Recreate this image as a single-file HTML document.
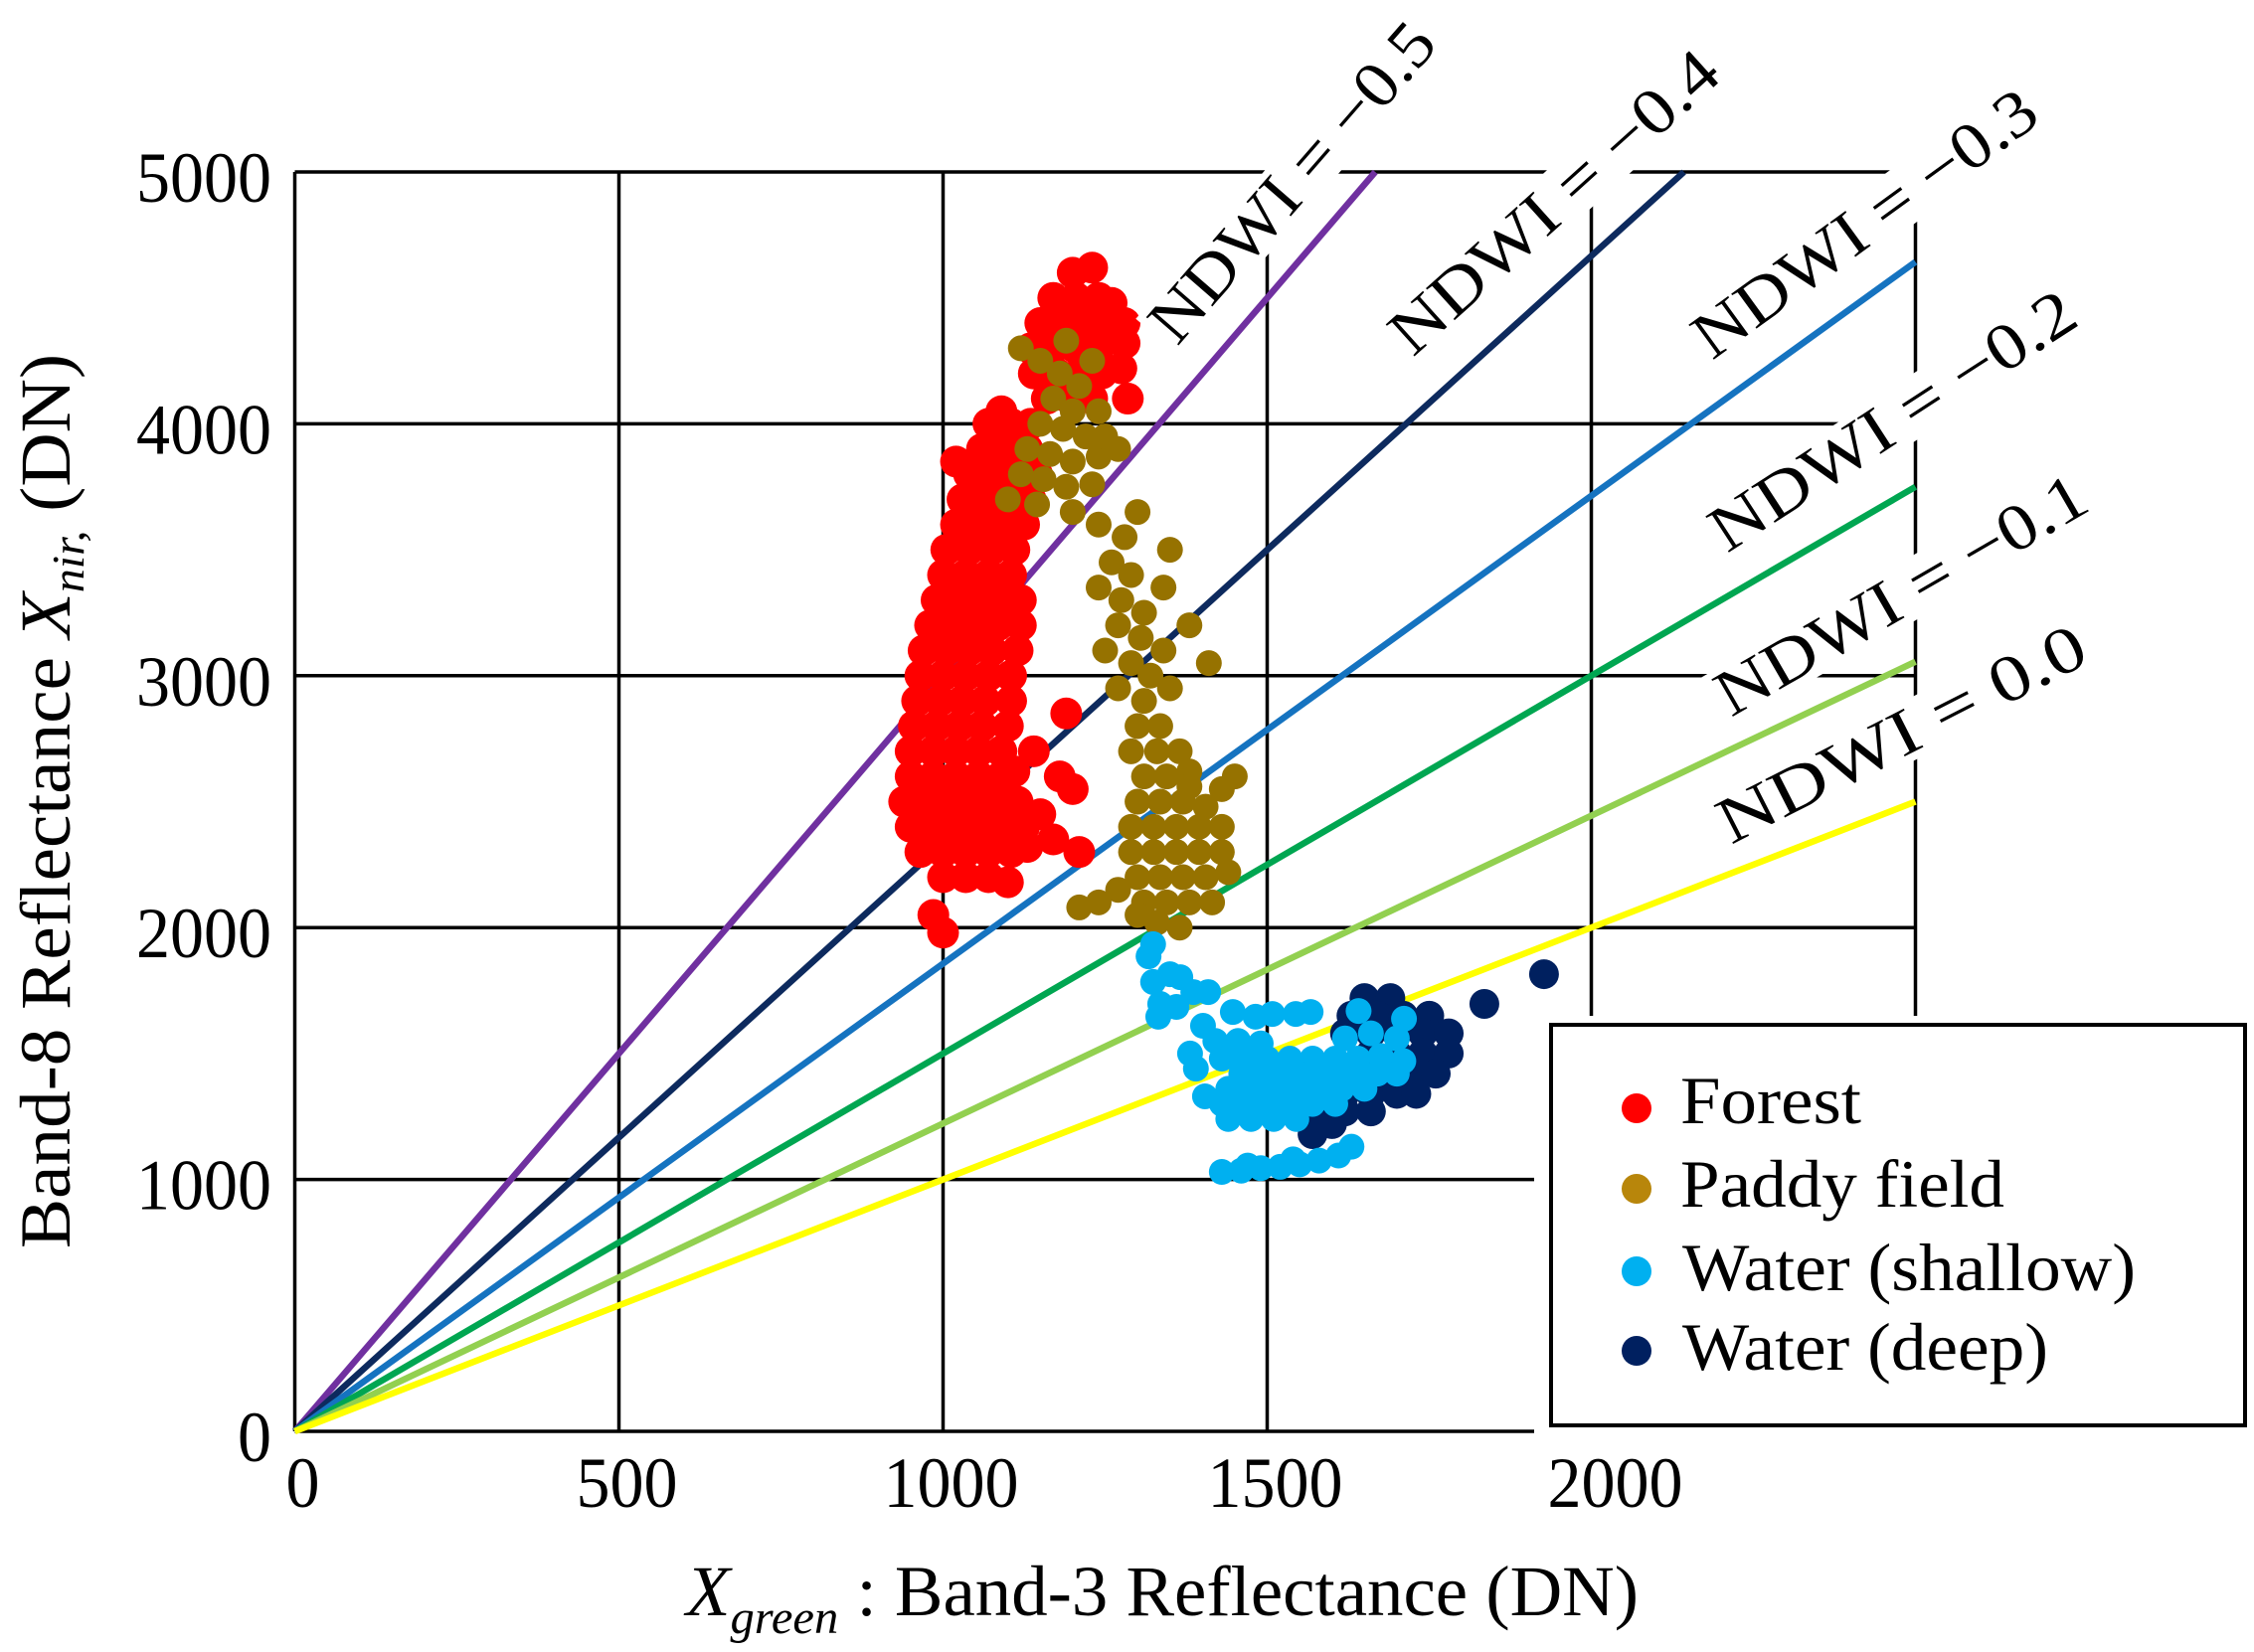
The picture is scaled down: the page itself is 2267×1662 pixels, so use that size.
<!DOCTYPE html>
<html><head><meta charset="utf-8">
<style>
html,body{margin:0;padding:0;background:#fff;}
svg{display:block;font-family:"Liberation Serif",serif;}
</style></head>
<body>
<svg id="chart" width="2267" height="1662" viewBox="0 0 2267 1662" xmlns="http://www.w3.org/2000/svg">
<rect width="2267" height="1662" fill="#fff"/>
<g id="grid"></g>
<g id="ndwiLines"></g>
<g id="points"></g>
<g id="lineLabels"></g>
<g id="ticks"></g>
<text transform="translate(70,806) rotate(-90)" text-anchor="middle" font-size="72" fill="#000" textLength="900" lengthAdjust="spacingAndGlyphs">Band-8 Reflectance  <tspan font-style="italic">X</tspan><tspan font-style="italic" font-size="46" dy="14">nir,</tspan><tspan dy="-14">  (DN)</tspan></text>
<text x="690" y="1625" font-size="72" fill="#000" textLength="958" lengthAdjust="spacingAndGlyphs"><tspan font-style="italic">X</tspan><tspan font-style="italic" font-size="48" dy="18">green</tspan><tspan dy="-18"> : Band-3 Reflectance (DN)</tspan></text>
<g>
<rect x="1543" y="1022" width="724" height="440" fill="#fff"/>
<rect x="1560" y="1031" width="698" height="403" fill="#fff" stroke="#000" stroke-width="4"/>
<circle cx="1646" cy="1115" r="15" fill="#ff0000"/>
<text x="1690" y="1130" font-size="68" textLength="182" lengthAdjust="spacingAndGlyphs">Forest</text>
<circle cx="1646" cy="1196" r="15" fill="#b8860b"/>
<text x="1690" y="1214" font-size="68" textLength="326" lengthAdjust="spacingAndGlyphs">Paddy field</text>
<circle cx="1646" cy="1279" r="15" fill="#00b0f0"/>
<text x="1692" y="1298" font-size="68" textLength="456" lengthAdjust="spacingAndGlyphs">Water (shallow)</text>
<circle cx="1646" cy="1359" r="15" fill="#002060"/>
<text x="1692" y="1378" font-size="68" textLength="368" lengthAdjust="spacingAndGlyphs">Water (deep)</text>
</g>
</svg>
<script>
// ---- data ----
const xTicks = [0, 500, 1000, 1500, 2000, 2500];
const yTicks = [0, 1000, 2000, 3000, 4000, 5000];
const xTickLabels = ["0", "500", "1000", "1500", "2000"];
const yTickLabels = ["0", "1000", "2000", "3000", "4000", "5000"];
const ndwiValues = [-0.5, -0.4, -0.3, -0.2, -0.1, 0.0];
const ndwiLabelText = ["NDWI = \u22120.5", "NDWI = \u22120.4", "NDWI = \u22120.3", "NDWI = \u22120.2", "NDWI = \u22120.1", "NDWI =  0.0"];
const forest = [[1000,2200],[1035,2200],[1070,2200],[1100,2180],
[965,2300],[1000,2300],[1035,2300],[1070,2300],[1105,2300],[1130,2320],
[950,2400],[985,2400],[1020,2400],[1055,2400],[1090,2400],[1125,2400],
[940,2500],[975,2500],[1010,2500],[1045,2500],[1080,2500],[1115,2500],
[950,2600],[985,2600],[1020,2600],[1055,2600],[1090,2600],[1110,2620],
[950,2700],[985,2700],[1020,2700],[1055,2700],[1090,2700],
[955,2800],[990,2800],[1025,2800],[1060,2800],[1100,2800],
[960,2900],[995,2900],[1030,2900],[1065,2900],[1105,2900],
[965,3000],[1000,3000],[1035,3000],[1070,3000],[1105,3000],
[970,3100],[1005,3100],[1040,3100],[1075,3100],[1115,3100],
[980,3200],[1015,3200],[1050,3200],[1085,3200],[1120,3200],
[990,3300],[1025,3300],[1060,3300],[1095,3300],[1120,3300],
[1000,3400],[1035,3400],[1070,3400],[1105,3400],
[1005,3500],[1040,3500],[1075,3500],[1110,3500],
[1020,3600],[1055,3600],[1090,3600],[1125,3600],
[1030,3700],[1065,3700],[1100,3700],[1135,3700],
[1040,3800],[1075,3800],[1110,3800],[1145,3800],
[1020,3850],[1060,3900],[1095,3900],[1130,3900],
[1070,4000],[1105,4000],[1135,4000],
[1090,4050],[1160,4100],[1195,4100],[1230,4100],[1285,4100],
[1140,4200],[1175,4200],[1210,4200],[1245,4200],[1275,4220],
[1135,4300],[1170,4300],[1205,4300],[1240,4300],[1280,4320],
[1150,4400],[1185,4400],[1220,4400],[1255,4400],[1280,4400],
[1170,4500],[1205,4500],[1240,4500],[1260,4480],
[1200,4600],[1230,4620],
[985,2050],[1000,1980],[1150,2450],[1180,2600],[1200,2550],[1170,2350],[1190,2850],[1140,2700],[1210,2300]];
const paddy = [[1150,4250],[1180,4200],[1210,4150],[1170,4100],[1200,4050],[1150,4000],[1185,3980],[1220,3950],[1130,3900],[1165,3880],[1200,3850],[1240,3870],[1120,3800],[1155,3780],[1190,3750],[1230,3760],[1120,4300],[1190,4330],[1230,4250],[1240,4050],[1100,3700],[1145,3680],[1200,3650],[1270,3900],[1250,3950],
[1240,3600],[1280,3550],[1300,3650],[1260,3450],[1290,3400],[1240,3350],[1275,3300],[1310,3250],[1350,3500],[1270,3200],[1305,3150],[1340,3100],[1250,3100],[1290,3050],[1320,3000],[1270,2950],[1310,2900],[1350,2950],[1300,2800],[1335,2800],[1290,2700],[1330,2700],[1365,2700],[1310,2600],[1345,2600],[1380,2620],[1340,3350],[1380,3200],[1410,3050],
[1300,2500],[1335,2500],[1370,2500],[1405,2480],[1430,2550],
[1290,2400],[1325,2400],[1360,2400],[1395,2400],[1430,2400],
[1290,2300],[1325,2300],[1360,2300],[1395,2300],[1430,2300],
[1300,2200],[1335,2200],[1370,2200],[1405,2200],[1440,2220],
[1310,2100],[1345,2100],[1380,2100],[1415,2100],
[1330,2020],[1365,2000],[1240,2100],[1270,2150],[1210,2080],[1300,2050],[1450,2600],[1380,2560]];
const waterDeep = [[1650,1720],[1690,1720],
[1630,1650],[1670,1650],[1710,1650],[1750,1650],
[1620,1580],[1660,1580],[1700,1580],[1740,1580],[1780,1580],
[1660,1500],[1700,1500],[1740,1500],[1780,1500],
[1680,1420],[1720,1420],[1760,1420],
[1620,1340],[1660,1340],[1700,1340],[1730,1340],
[1580,1270],[1620,1270],[1660,1270],[1600,1220],
[1835,1697],[1927,1815],[1570,1180]];
const waterShallow = [[1324,1934],[1317,1886],[1350,1815],[1324,1784],[1366,1803],[1386,1744],[1409,1744],[1335,1697],[1360,1685],[1332,1646],[1447,1665],[1482,1646],[1508,1657],[1544,1657],[1567,1665],[1401,1610],[1381,1500],[1390,1440],[1404,1330],
[1641,1669],[1711,1638],
[1420,1550],[1455,1550],[1490,1540],[1620,1560],[1660,1580],[1700,1560],
[1430,1480],[1465,1480],[1500,1480],[1535,1480],[1570,1480],[1605,1480],[1640,1480],[1675,1490],[1710,1470],
[1460,1420],[1495,1420],[1530,1420],[1565,1420],[1600,1420],[1635,1420],[1670,1420],[1700,1420],
[1440,1360],[1475,1360],[1510,1360],[1545,1360],[1580,1360],[1615,1360],[1650,1360],
[1430,1300],[1465,1300],[1500,1300],[1535,1300],[1570,1300],[1605,1300],
[1440,1240],[1475,1240],[1510,1240],[1545,1240],
[1430,1030],[1460,1035],[1490,1045],[1520,1050],[1550,1060],[1580,1075],[1610,1095],[1630,1130],[1470,1055],[1540,1080]];

// ---- axes ----
const X0 = 296.5, XS = 0.652, Y0 = 1440, YS = 0.2534;
const xMax = 2500, yMax = 5000;
function sx(v){ return X0 + v * XS; }
function sy(v){ return Y0 - v * YS; }
const NS = "http://www.w3.org/2000/svg";
function mk(tag, attrs, parent){ const e = document.createElementNS(NS, tag); for (const k in attrs) e.setAttribute(k, attrs[k]); parent.appendChild(e); return e; }

const grid = document.getElementById('grid');
xTicks.forEach(function(t){
  const l = mk('line', {x1: sx(t), x2: sx(t), y1: sy(0), y2: sy(yMax), stroke: '#000', 'stroke-width': 3.5}, grid);
  
  
});
yTicks.forEach(function(t){
  const l = mk('line', {x1: sx(0), x2: sx(xMax), y1: sy(t), y2: sy(t), stroke: '#000', 'stroke-width': 3.5}, grid);
  
  
});

const lineColors = ['#7030a0', '#0d2a5e', '#1573c0', '#00a651', '#92d050', '#ffff00'];
const lg = document.getElementById('ndwiLines');
ndwiValues.forEach(function(k, i){
  const slope = (1 - k) / (1 + k);
  let gEnd = xMax, nEnd = gEnd * slope;
  if (nEnd > yMax) { nEnd = yMax; gEnd = yMax / slope; }
  const l = mk('line', {x1: sx(0), y1: sy(0), x2: sx(gEnd), y2: sy(nEnd), stroke: lineColors[i], 'stroke-width': 6.5}, lg);
  
  
});

const pg = document.getElementById('points');
function drawSeries(arr, color, r, name){
  const g = mk('g', {fill: color}, pg);
  
  
  arr.forEach(function(p){
    const c = mk('circle', {cx: sx(p[0]), cy: sy(p[1]), r: r}, g);
    
    
  });
}
drawSeries(forest, '#ff0000', 16, 'forest-series');
drawSeries(paddy, '#967200', 13, 'paddy-series');
drawSeries(waterDeep, '#00205f', 15, 'water-deep-series');
drawSeries(waterShallow, '#00b0f0', 13, 'water-shallow-series');

// NDWI labels (placement)
const labelPos = [[1184,349,-49,402],[1421,360,-42,421],[1722,363,-36,411],[1737,557,-33,425],[1741,722,-30,420],[1741,850,-27,407]];
const llg = document.getElementById('lineLabels');
ndwiLabelText.forEach(function(txt, i){
  const p = labelPos[i];
  const g = mk('g', {transform: 'translate(' + p[0] + ',' + p[1] + ') rotate(' + p[2] + ')'}, llg);
  
  
  mk('rect', {x: -6, y: -50, width: p[3] + 14, height: 58, fill: '#fff'}, g);
  const t = mk('text', {x: 0, y: 0, 'font-size': 66, fill: '#000', textLength: p[3], lengthAdjust: 'spacingAndGlyphs'}, g);
  t.textContent = txt;
});

// tick labels
const tg = document.getElementById('ticks');
yTickLabels.forEach(function(s, i){
  const t = mk('text', {x: 273, y: sy(yTicks[i]) + 30, 'text-anchor': 'end', 'font-size': 72, textLength: 34 * s.length, lengthAdjust: 'spacingAndGlyphs'}, tg);
  
  
  t.textContent = s;
});
xTickLabels.forEach(function(s, i){
  const t = mk('text', {x: sx(xTicks[i]) + 8 + (i === 4 ? 16 : 0), y: 1516, 'text-anchor': 'middle', 'font-size': 72, textLength: 34 * s.length, lengthAdjust: 'spacingAndGlyphs'}, tg);
  
  
  t.textContent = s;
});
</script>
</body></html>
